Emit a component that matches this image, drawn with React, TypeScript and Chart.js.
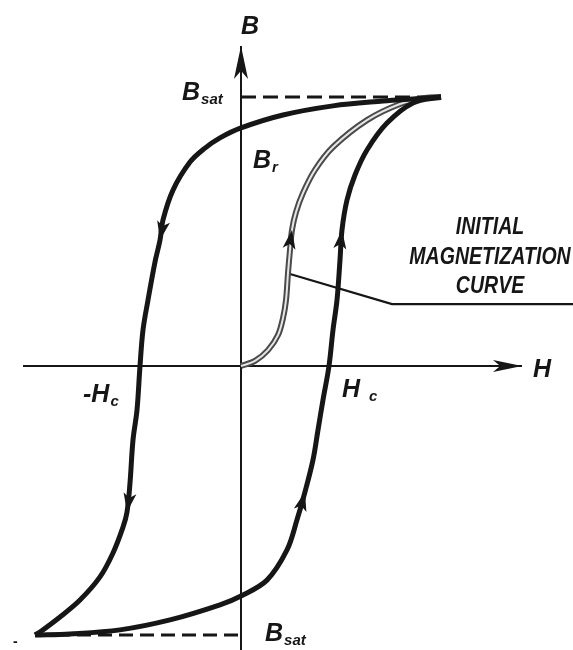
import { useEffect, useRef } from "react";
import { Chart, registerables } from "chart.js";

Chart.register(...registerables);

// Field strength H and flux density B, normalised so that saturation = 1.
// Descending branch: from +saturation back through Br and -Hc to -saturation.
const descendingH = [1.0, 0.86, 0.71, 0.46, 0.21, 0.0, -0.105, -0.18, -0.255, -0.34, -0.39, -0.405, -0.43, -0.465, -0.49, -0.505, -0.52, -0.54, -0.555, -0.57, -0.59, -0.64, -0.705, -0.805, -0.905, -1.005, -1.03];
const descendingB = [1.0, 0.993, 0.985, 0.967, 0.933, 0.885, 0.848, 0.81, 0.758, 0.654, 0.543, 0.468, 0.387, 0.245, 0.134, 0.0, -0.164, -0.275, -0.435, -0.543, -0.599, -0.695, -0.784, -0.87, -0.933, -0.989, -1.0];

// Ascending branch: from -saturation through -Br and +Hc to +saturation.
const ascendingH = [-1.03, -0.855, -0.605, -0.355, -0.105, 0.0, 0.13, 0.23, 0.28, 0.32, 0.36, 0.385, 0.41, 0.44, 0.46, 0.48, 0.495, 0.505, 0.53, 0.57, 0.63, 0.73, 0.86, 1.0];
const ascendingB = [-1.0, -0.996, -0.981, -0.944, -0.888, -0.855, -0.796, -0.684, -0.572, -0.468, -0.349, -0.238, -0.126, 0.0, 0.134, 0.245, 0.394, 0.506, 0.617, 0.71, 0.803, 0.903, 0.978, 1.0];

// Initial magnetization curve from the demagnetised origin.
const initialH = [0.0, 0.07, 0.135, 0.185, 0.21, 0.225, 0.235, 0.245, 0.255, 0.275, 0.31, 0.37, 0.46, 0.63, 0.795, 0.92, 1.0];
const initialB = [0.0, 0.019, 0.059, 0.115, 0.178, 0.245, 0.346, 0.431, 0.506, 0.572, 0.643, 0.729, 0.814, 0.914, 0.974, 0.996, 1.0];

// Leader line from the initial curve to its caption.
const leaderH = [0.245, 0.755, 1.66];
const leaderB = [0.342, 0.23, 0.23];

// Saturation levels (dashed guides) and the two axes.
const satTopH = [0.0, 1.0];
const satTopB = [1.0, 1.0];
const satBottomH = [-1.03, 0.0];
const satBottomB = [-1.0, -1.0];
const hAxisH = [-1.09, 1.405];
const hAxisB = [0, 0];
const vAxisH = [0, 0];
const vAxisB = [-1.06, 1.19];

// Direction arrows along the curves (curve name, point index).
const arrowMarks: [string, number][] = [
  ["descending", 11],
  ["descending", 19],
  ["ascending", 9],
  ["ascending", 17],
  ["initial", 8],
];

// Annotations: main text, subscript, anchor (H, B) at the left baseline.
const labelMain = ["B", "H", "B", "B", "-H", "H", "B"];
const labelSub = ["", "", "sat", "r", "c", "c", "sat"];
const labelH = [0.0, 1.46, -0.295, 0.06, -0.79, 0.505, 0.12];
const labelB = [1.235, -0.04, 0.989, 0.737, -0.134, -0.115, -1.021];
const captionLines = ["INITIAL", "MAGNETIZATION", "CURVE"];

const INK = "#161616";
const FONT = '"Liberation Sans", Arial, sans-serif';

const pts = (hs: number[], bs: number[]) => hs.map((h, i) => ({ x: h, y: bs[i] }));

const curves: Record<string, { x: number; y: number }[]> = {
  descending: pts(descendingH, descendingB),
  ascending: pts(ascendingH, ascendingB),
  initial: pts(initialH, initialB),
};

function arrowHead(ctx: CanvasRenderingContext2D, tx: number, ty: number, dx: number, dy: number, len: number, half: number) {
  const n = Math.hypot(dx, dy) || 1;
  const ux = dx / n;
  const uy = dy / n;
  const bx = tx - ux * len;
  const by = ty - uy * len;
  ctx.beginPath();
  ctx.moveTo(tx, ty);
  ctx.lineTo(bx - uy * half, by + ux * half);
  ctx.lineTo(bx + ux * len * 0.25, by + uy * len * 0.25);
  ctx.lineTo(bx + uy * half, by - ux * half);
  ctx.closePath();
  ctx.fill();
}

const overlay = {
  id: "hysteresisOverlay",
  afterDatasetsDraw(chart: any) {
    const { ctx, scales } = chart;
    const px = (h: number) => scales.x.getPixelForValue(h);
    const py = (b: number) => scales.y.getPixelForValue(b);
    ctx.save();
    ctx.fillStyle = INK;

    // axis arrowheads
    arrowHead(ctx, px(vAxisH[1]), py(vAxisB[1]), 0, -1, 33, 7);
    arrowHead(ctx, px(hAxisH[1]), py(hAxisB[1]), 1, 0, 29, 6);

    // direction arrows on the curves
    for (const [name, i] of arrowMarks) {
      const c = curves[name];
      const a = c[i - 1];
      const b = c[i + 1];
      const p = c[i];
      arrowHead(ctx, px(p.x), py(p.y), px(b.x) - px(a.x), py(b.y) - py(a.y), 19, 6.5);
    }

    // labels with subscripts
    ctx.textBaseline = "alphabetic";
    ctx.textAlign = "left";
    labelMain.forEach((main, i) => {
      const x = px(labelH[i]);
      const y = py(labelB[i]);
      ctx.font = `italic bold 25px ${FONT}`;
      ctx.fillText(main, x, y);
      const w = ctx.measureText(main).width;
      if (labelSub[i]) {
        ctx.font = `italic bold 15px ${FONT}`;
        const gap = main === "H" ? 9 : 1;
        ctx.fillText(labelSub[i], x + w + gap, y + 4);
      }
    });

    // stray tick in the lower-left corner
    ctx.font = `bold 14px ${FONT}`;
    ctx.fillText("-", px(-1.14), py(-1.04));

    // caption of the initial magnetization curve
    ctx.font = `italic bold 23px ${FONT}`;
    ctx.textAlign = "center";
    ctx.textBaseline = "middle";
    const cx = px(1.245);
    const rows = [0.514, 0.403, 0.295];
    captionLines.forEach((line, i) => {
      ctx.save();
      ctx.translate(cx, py(rows[i]));
      ctx.scale(0.85, 1);
      ctx.fillText(line, 0, 0);
      ctx.restore();
    });
    ctx.restore();
  },
};

export default function App() {
  const ref = useRef<HTMLCanvasElement>(null);

  useEffect(() => {
    if (!ref.current) return;
    const line = (data: any, color: string, width: number, order: number, extra: any = {}) => ({
      data,
      borderColor: color,
      borderWidth: width,
      pointRadius: 0,
      showLine: true,
      fill: false,
      tension: 0.35,
      order,
      ...extra,
    });
    const chart = new Chart(ref.current, {
      type: "scatter",
      data: {
        datasets: [
          line(pts(hAxisH, hAxisB), INK, 2.2, 10, { tension: 0 }),
          line(pts(vAxisH, vAxisB), INK, 2, 10, { tension: 0 }),
          line(pts(satTopH, satTopB), INK, 3, 9, { tension: 0, borderDash: [15, 7] }),
          line(pts(satBottomH, satBottomB), INK, 3, 9, { tension: 0, borderDash: [14, 7] }),
          line(pts(leaderH, leaderB), INK, 2.2, 8, { tension: 0 }),
          line(curves.initial, "#4a4a4a", 6, 7),
          line(curves.initial, "#e6e6e6", 2, 6),
          line(curves.descending, INK, 5, 5),
          line(curves.ascending, INK, 5, 5),
        ],
      },
      options: {
        responsive: false,
        animation: false,
        layout: { padding: 0, autoPadding: false },
        plugins: { legend: { display: false }, tooltip: { enabled: false } },
        scales: {
          x: { type: "linear", display: false, min: -1.205, max: 1.66 },
          y: { type: "linear", display: false, min: -1.0558, max: 1.3606 },
        },
      },
      plugins: [overlay],
    });
    return () => chart.destroy();
  }, []);

  return (
    <div style={{ position: "fixed", left: 0, top: 0, width: 573, height: 650, background: "#fff" }}>
      <canvas ref={ref} width={573} height={650} style={{ display: "block" }} />
    </div>
  );
}
